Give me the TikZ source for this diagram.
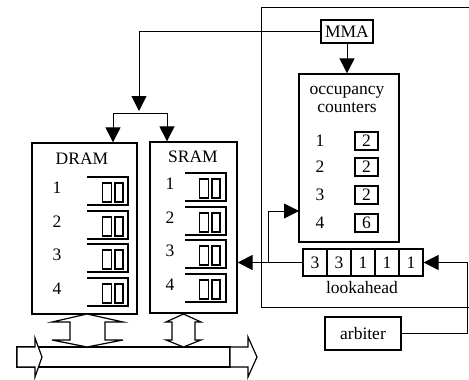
\documentclass[tikz,border=0pt]{standalone}
\usepackage{fontspec}
\setmainfont{Liberation Serif}
\usetikzlibrary{arrows.meta,calc}
\begin{document}
\begin{tikzpicture}[x=1pt,y=-1pt,
  txt/.style={font=\rmfamily\fontsize{17.5}{18}\selectfont},
  box/.style={txt,draw,line width=1.3pt,inner sep=0pt},
  cell/.style={txt,draw,line width=1.1pt,inner sep=0pt,minimum width=24pt,minimum height=27pt},
  cnt/.style={txt,draw,line width=1.1pt,inner sep=0pt,minimum width=23pt,minimum height=18pt},
  lbl/.style={txt,inner sep=0pt},
  conn/.style={line width=1pt},
  arr/.style={conn,-{Triangle[length=15pt,width=15pt]}},
  queue/.style={line width=1.2pt},
  fat/.style={line width=1.2pt,fill=white}]
\useasboundingbox (0,0) rectangle (469,380);
% outer box (right side off the picture)
\draw[line width=1pt] (475,7) -- (261,7) -- (261,307) -- (475,307);
% memories
\node[box,minimum width=105pt,minimum height=171pt] (dram) at (84.5,228.5) {};
\node[box,minimum width=87pt,minimum height=171pt] (sram) at (193.5,227.5) {};
\node[lbl] at (82,159) {DRAM};
\node[lbl] at (193,157) {SRAM};
% queues in DRAM
\foreach \t/\n in {177/1,211/2,244/3,278/4}{
  \draw[queue] (87,\t) -- (128,\t) -- (128,\t+28) -- (87,\t+28);
  \draw[queue] (102.5,\t+6) rectangle (111.5,\t+25);
  \draw[queue] (115,\t+6) rectangle (123,\t+25);
  \node[lbl] at (57,\t+11) {\n};
}
% queues in SRAM
\foreach \t/\n in {173/1,207/2,240/3,274/4}{
  \draw[queue] (185,\t) -- (226,\t) -- (226,\t+28) -- (185,\t+28);
  \draw[queue] (199.5,\t+6) rectangle (208.5,\t+25);
  \draw[queue] (212,\t+6) rectangle (220,\t+25);
  \node[lbl] at (170,\t+11) {\n};
}
% MMA and occupancy counters
\node[box,minimum width=52pt,minimum height=23pt] (mma) at (347,31.5) {MMA};
\node[box,minimum width=100pt,minimum height=168pt] (occ) at (349,158) {};
\node[lbl] at (347,92) {occupancy};
\node[lbl] at (347,108) {counters};
\foreach \y/\n/\v in {141/1/2,167/2/2,195/3/2,223/4/6}{
  \node[lbl] at (320,\y) {\n};
  \node[cnt] (c\n) at (366.5,\y) {\v};
}
% lookahead
\foreach \x/\v [count=\i] in {315/3,339/3,363/1,387/1,411/1}{
  \node[cell] (l\i) at (\x,262.5) {\v};
}
\node[lbl] at (362,288) {lookahead};
% arbiter
\node[box,line width=1.1pt,minimum width=76pt,minimum height=33pt] (arb) at (363,333.5) {arbiter};
% connectors
\coordinate (split) at (139,111);
\coordinate (bl) at (113,113);
\coordinate (br) at (167,113);
\draw[arr] (mma.west) -| (split);
\draw[conn] (bl) -- (br);
\draw[arr] (bl) -- (bl |- dram.north);
\draw[arr] (br) -- (br |- sram.north);
\draw[arr] (mma.south) -- (mma.south |- occ.north);
\draw[arr] (l1.west) -- (l1.west -| sram.east);
\coordinate (tap) at (268,262.5);
\coordinate (occin) at (299,211);
\draw[arr] (tap) |- (occin);
\coordinate (turn) at (467,333.5);
\draw[arr] (arb.east) -- (turn) |- (l5.east);
% bus
\draw[fat] (17,347) rectangle (230,367);
\draw[fat] (17,347) -- (35,347) -- (35,338) -- (42,357) -- (35,377) -- (35,367) -- (17,367) -- cycle;
\draw[fat] (230,347) -- (248,347) -- (248,337) -- (257,357) -- (248,377) -- (248,367) -- (230,367) -- cycle;
% bidirectional arrows
\draw[fat] (87,314) -- (123,322) -- (105,322) -- (105,340) -- (123,340) -- (87,347)
  -- (52,340) -- (70,340) -- (70,322) -- (52,322) -- cycle;
\draw[fat] (183.5,314) -- (201,322) -- (195,322) -- (195,340) -- (201,340) -- (183.5,347)
  -- (166,340) -- (172,340) -- (172,322) -- (166,322) -- cycle;
\end{tikzpicture}
\end{document}
